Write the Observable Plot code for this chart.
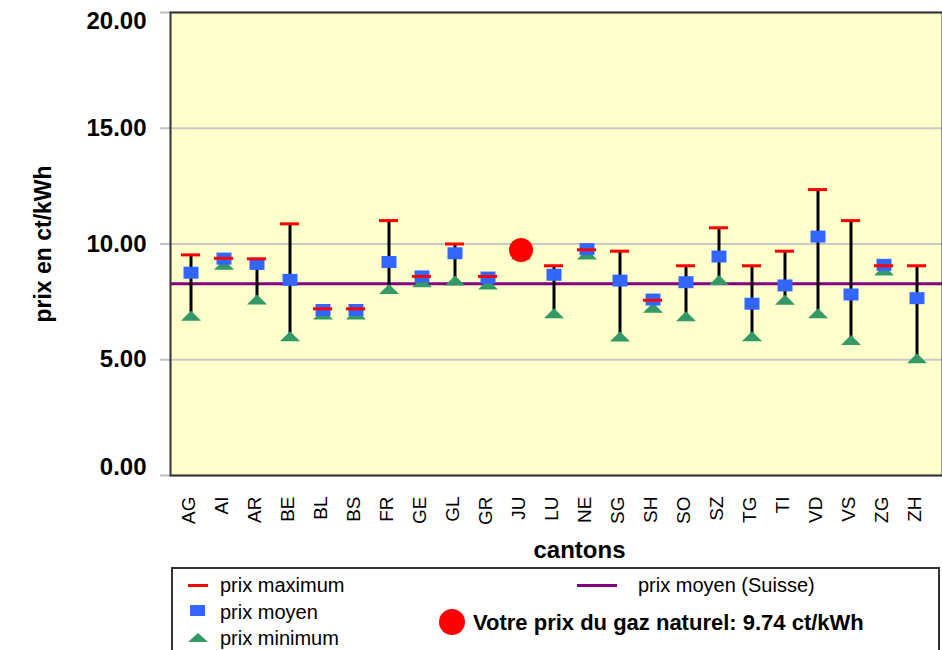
<!DOCTYPE html>
<html>
<head>
<meta charset="utf-8">
<script src="https://cdn.jsdelivr.net/npm/d3@7"></script>
<script src="https://cdn.jsdelivr.net/npm/@observablehq/plot@0.6"></script>
<style>
  body { margin: 0; background: #fff; font-family: "Liberation Sans", Arial, sans-serif; }
  #chart svg { display: block; }
  #legend { position: relative; margin-left: 171px; margin-top: 1px; width: 769px; height: 110px;
            border: 2px solid #333; box-sizing: border-box; background: #fff; }
  .li { position: absolute; font-size: 20px; line-height: 20px; color: #000; white-space: nowrap; }
  .sym { position: absolute; display: block; }
</style>
</head>
<body>
<div id="chart"></div>
<div id="legend"></div>
<script>
const cantons = ["AG","AI","AR","BE","BL","BS","FR","GE","GL","GR","JU","LU","NE","SG","SH","SO","SZ","TG","TI","VD","VS","ZG","ZH"];
const prixMax = [9.53, 9.38, 9.36, 10.87, 7.2, 7.2, 11.01, 8.6, 10.0, 8.6, 9.74, 9.06, 9.75, 9.69, 7.57, 9.06, 10.7, 9.06, 9.69, 12.35, 11.01, 9.06, 9.06];
const prixMoyen = [8.76, 9.37, 9.14, 8.45, 7.15, 7.15, 9.22, 8.6, 9.6, 8.55, 9.7, 8.67, 9.78, 8.42, 7.6, 8.35, 9.46, 7.42, 8.21, 10.32, 7.82, 9.1, 7.66];
const prixMin = [6.9, 9.1, 7.6, 6.02, 6.95, 6.95, 8.06, 8.35, 8.42, 8.25, 9.55, 7.01, 9.55, 6.0, 7.25, 6.88, 8.45, 6.02, 7.59, 7.01, 5.85, 8.85, 5.06];
const prixSuisse = 8.28;
const votreCanton = "JU";
const votrePrix = 9.74;
const yTicks = [0, 5, 10, 15, 20];

const data = cantons.map((c, i) => ({canton: c, max: prixMax[i], moyen: prixMoyen[i], min: prixMin[i]}));

const triangle = {draw(ctx) { ctx.moveTo(0, -5); ctx.lineTo(10, 5); ctx.lineTo(-10, 5); ctx.closePath(); }};
const rectSym = {draw(ctx) { ctx.moveTo(-7.5, -6); ctx.lineTo(7.5, -6); ctx.lineTo(7.5, 6); ctx.lineTo(-7.5, 6); ctx.closePath(); }};

const tickText = {frameAnchor: "left", textAnchor: "end", dx: -24, fontSize: 24, fontWeight: "bold", fill: "#000", text: d => d.toFixed(2)};

const chart = Plot.plot({
  width: 942,
  height: 566,
  marginLeft: 170,
  marginRight: 0,
  marginTop: 12,
  marginBottom: 91,
  style: {fontFamily: "'Liberation Sans', Arial, sans-serif", color: "#000", background: "#fff"},
  x: {type: "band", domain: cantons, range: [166, 941], padding: 0},
  y: {domain: [0, 20]},
  marks: [
    Plot.frame({fill: "#ffffcc"}),
    Plot.gridY(yTicks, {stroke: "#c8c8c8", strokeOpacity: 1, strokeWidth: 2}),
    Plot.axisY({ticks: yTicks, tickSize: 10, tickFormat: () => "", stroke: "#c0c0c0", strokeWidth: 2, label: null}),
    Plot.text(yTicks.filter(d => d > 0 && d < 20), {...tickText, y: d => d}),
    Plot.text([20], {...tickText, y: d => d, dy: 9}),
    Plot.text([0], {...tickText, y: d => d, dy: -8}),
    Plot.axisX({tickRotate: -90, tickSize: 0, tickPadding: 21, fontSize: 19, label: null, dx: -2}),
    Plot.ruleY([prixSuisse], {stroke: "#800080", strokeWidth: 3}),
    Plot.ruleX(data, {x: "canton", y1: "min", y2: "max", stroke: "#000", strokeWidth: 3}),
    Plot.dot(data, {x: "canton", y: "min", symbol: triangle, fill: "#339966", stroke: "none"}),
    Plot.dot(data, {x: "canton", y: "moyen", symbol: rectSym, fill: "#3366ff", stroke: "none"}),
    Plot.tickY(data, {x: "canton", y: "max", stroke: "#ff0000", strokeWidth: 3, insetLeft: 7, insetRight: 7}),
    Plot.dot([{canton: votreCanton, v: votrePrix}], {x: "canton", y: "v", r: 12, fill: "#ff0000", stroke: "none"}),
    Plot.frame({stroke: "#333", strokeWidth: 2}),
    Plot.text(["prix en ct/kWh"], {frameAnchor: "left", textAnchor: "middle", dx: -127, rotate: -90, fontSize: 23, fontWeight: "bold", fill: "#000"}),
    Plot.text(["cantons"], {frameAnchor: "bottom", textAnchor: "middle", dy: 82, dx: 23, fontSize: 24, fontWeight: "bold", fill: "#000"})
  ]
});
document.getElementById("chart").appendChild(chart);

// Legend (coordinates relative to the legend box, whose outer top-left is at 171,567)
const legend = document.getElementById("legend");
const ox = 173, oy = 569;
function addText(txt, x, cy, bold) {
  const d = document.createElement("div");
  d.className = "li";
  d.textContent = txt;
  const fs = bold ? 22 : 20;
  d.style.fontSize = fs + "px";
  d.style.lineHeight = fs + "px";
  if (bold) d.style.fontWeight = "bold";
  d.style.left = (x - ox) + "px";
  d.style.top = (cy - oy - fs / 2) + "px";
  legend.appendChild(d);
}
function addSym(svgInner, x, y, w, h) {
  const s = document.createElementNS("http://www.w3.org/2000/svg", "svg");
  s.setAttribute("class", "sym");
  s.setAttribute("width", w); s.setAttribute("height", h);
  s.style.left = (x - ox) + "px"; s.style.top = (y - oy) + "px";
  s.innerHTML = svgInner;
  legend.appendChild(s);
}
addSym('<rect x="0" y="0" width="20" height="3" fill="#ff0000"/>', 188, 584, 20, 3);
addText("prix maximum", 220, 585, false);
addSym('<rect x="0" y="0" width="15" height="11" fill="#3366ff"/>', 190, 605, 15, 11);
addText("prix moyen", 220, 612, false);
addSym('<path d="M10,0 L20,9 L0,9 Z" fill="#339966"/>', 188, 633, 20, 9);
addText("prix minimum", 220, 638, false);
addSym('<rect x="0" y="0" width="40" height="3" fill="#800080"/>', 577, 584, 40, 3);
addText("prix moyen (Suisse)", 638, 585, false);
addSym('<circle cx="13" cy="13" r="13" fill="#ff0000"/>', 439, 609, 26, 26);
addText("Votre prix du gaz naturel: " + votrePrix.toFixed(2) + " ct/kWh", 473, 623, true);
</script>
</body>
</html>
